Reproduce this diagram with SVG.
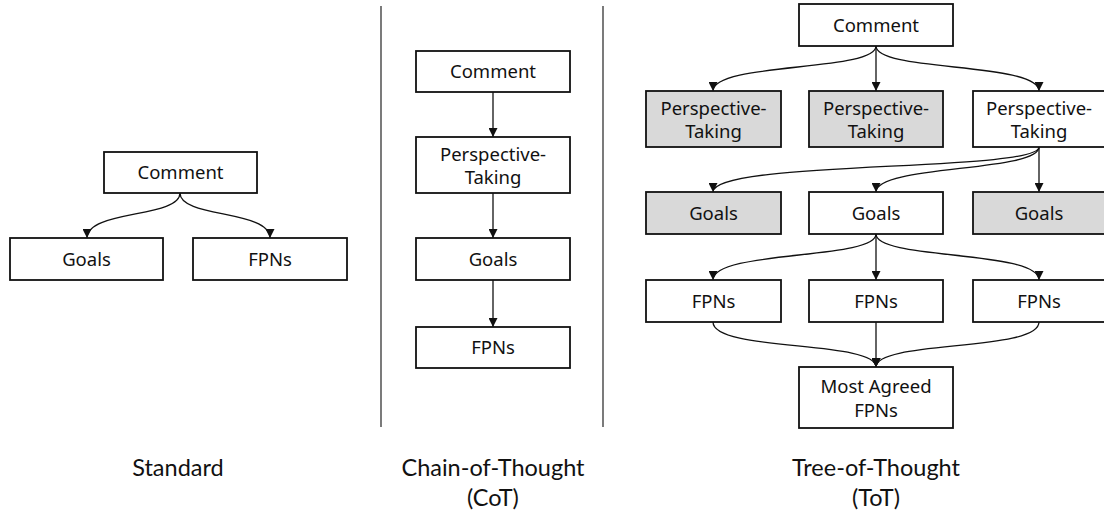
<svg xmlns="http://www.w3.org/2000/svg" width="1104" height="515" viewBox="0 0 1104 515">
<style>
.box{fill:#fff;stroke:#111;stroke-width:1.8}
.g{fill:#d9d9d9}
.t{font-family:"Noto Sans","Open Sans",sans-serif;font-size:18.5px;fill:#111;text-anchor:middle}
.lab{font-family:Lato,"Noto Sans",sans-serif;font-size:23.5px;fill:#111;text-anchor:middle}
.c{fill:none;stroke:#111;stroke-width:1.3;marker-end:url(#ah)}
.sep{stroke:#222;stroke-width:1.2}
</style>
<defs>
<marker id="ah" viewBox="0 0 10 10" refX="10" refY="5" markerWidth="9" markerHeight="9" markerUnits="userSpaceOnUse" orient="auto">
<path d="M0,0 L10,5 L0,10 z" fill="#111"/>
</marker>
</defs>
<rect width="1104" height="515" fill="#fff"/>
<line class="sep" x1="381" y1="6" x2="381" y2="427"/>
<line class="sep" x1="603" y1="6" x2="603" y2="427"/>

<g id="connectors">
<path class="c" d="M180,193 C180,218 87,210 87,238"/>
<path class="c" d="M180,193 C180,218 270,210 270,238"/>
<path class="c" d="M493,92 L493,137"/>
<path class="c" d="M493,193 L493,238"/>
<path class="c" d="M493,280 L493,327"/>
<path class="c" d="M876,46 C876,72 713,62 713,91"/>
<path class="c" d="M876,46 L876,91"/>
<path class="c" d="M876,46 C876,72 1039,62 1039,91"/>
<path class="c" d="M1039,147 C1039,172 713,160 713,192"/>
<path class="c" d="M1039,147 C1039,172 876,165 876,192"/>
<path class="c" d="M1039,147 L1039,192"/>
<path class="c" d="M876,234 C876,260 713,250 713,280"/>
<path class="c" d="M876,234 L876,280"/>
<path class="c" d="M876,234 C876,260 1039,250 1039,280"/>
<path class="c" d="M713,322 C713,352 876,340 876,367"/>
<path class="c" d="M876,322 L876,367"/>
<path class="c" d="M1039,322 C1039,352 876,340 876,367"/>
</g>

<g id="std-comment"><rect class="box" x="104" y="152" width="153" height="41"/><text class="t" x="180.5" y="179">Comment</text></g>
<g id="std-goals"><rect class="box" x="10" y="238" width="153" height="42"/><text class="t" x="86.5" y="265.5">Goals</text></g>
<g id="std-fpns"><rect class="box" x="193" y="238" width="154" height="42"/><text class="t" x="270" y="265.5">FPNs</text></g>

<g id="cot-comment"><rect class="box" x="416" y="51" width="154" height="41"/><text class="t" x="493" y="78">Comment</text></g>
<g id="cot-pt"><rect class="box" x="416" y="137" width="154" height="56"/><text class="t" x="493" y="161">Perspective-</text><text class="t" x="493" y="184">Taking</text></g>
<g id="cot-goals"><rect class="box" x="416" y="238" width="154" height="42"/><text class="t" x="493" y="265.5">Goals</text></g>
<g id="cot-fpns"><rect class="box" x="416" y="327" width="154" height="41"/><text class="t" x="493" y="354">FPNs</text></g>

<g id="tot-comment"><rect class="box" x="799" y="4" width="154" height="42"/><text class="t" x="876" y="31.5">Comment</text></g>
<g id="tot-pt1"><rect class="box g" x="646" y="91" width="135" height="56"/><text class="t" x="713.5" y="115">Perspective-</text><text class="t" x="713.5" y="138">Taking</text></g>
<g id="tot-pt2"><rect class="box g" x="809" y="91" width="134" height="56"/><text class="t" x="876" y="115">Perspective-</text><text class="t" x="876" y="138">Taking</text></g>
<g id="tot-pt3"><rect class="box" x="973" y="91" width="134" height="56"/><text class="t" x="1039" y="115">Perspective-</text><text class="t" x="1039" y="138">Taking</text></g>
<g id="tot-goals1"><rect class="box g" x="646" y="192" width="135" height="42"/><text class="t" x="713.5" y="219.5">Goals</text></g>
<g id="tot-goals2"><rect class="box" x="809" y="192" width="134" height="42"/><text class="t" x="876" y="219.5">Goals</text></g>
<g id="tot-goals3"><rect class="box g" x="973" y="192" width="134" height="42"/><text class="t" x="1039" y="219.5">Goals</text></g>
<g id="tot-fpns1"><rect class="box" x="646" y="280" width="135" height="42"/><text class="t" x="713.5" y="307.5">FPNs</text></g>
<g id="tot-fpns2"><rect class="box" x="809" y="280" width="134" height="42"/><text class="t" x="876" y="307.5">FPNs</text></g>
<g id="tot-fpns3"><rect class="box" x="973" y="280" width="134" height="42"/><text class="t" x="1039" y="307.5">FPNs</text></g>
<g id="tot-most"><rect class="box" x="799" y="367" width="154" height="61"/><text class="t" x="876" y="393">Most Agreed</text><text class="t" x="876" y="417">FPNs</text></g>

<text class="lab" x="178" y="476">Standard</text>
<text class="lab" x="493" y="476">Chain-of-Thought</text>
<text class="lab" x="493" y="506">(CoT)</text>
<text class="lab" x="876" y="476">Tree-of-Thought</text>
<text class="lab" x="876" y="506">(ToT)</text>
</svg>
